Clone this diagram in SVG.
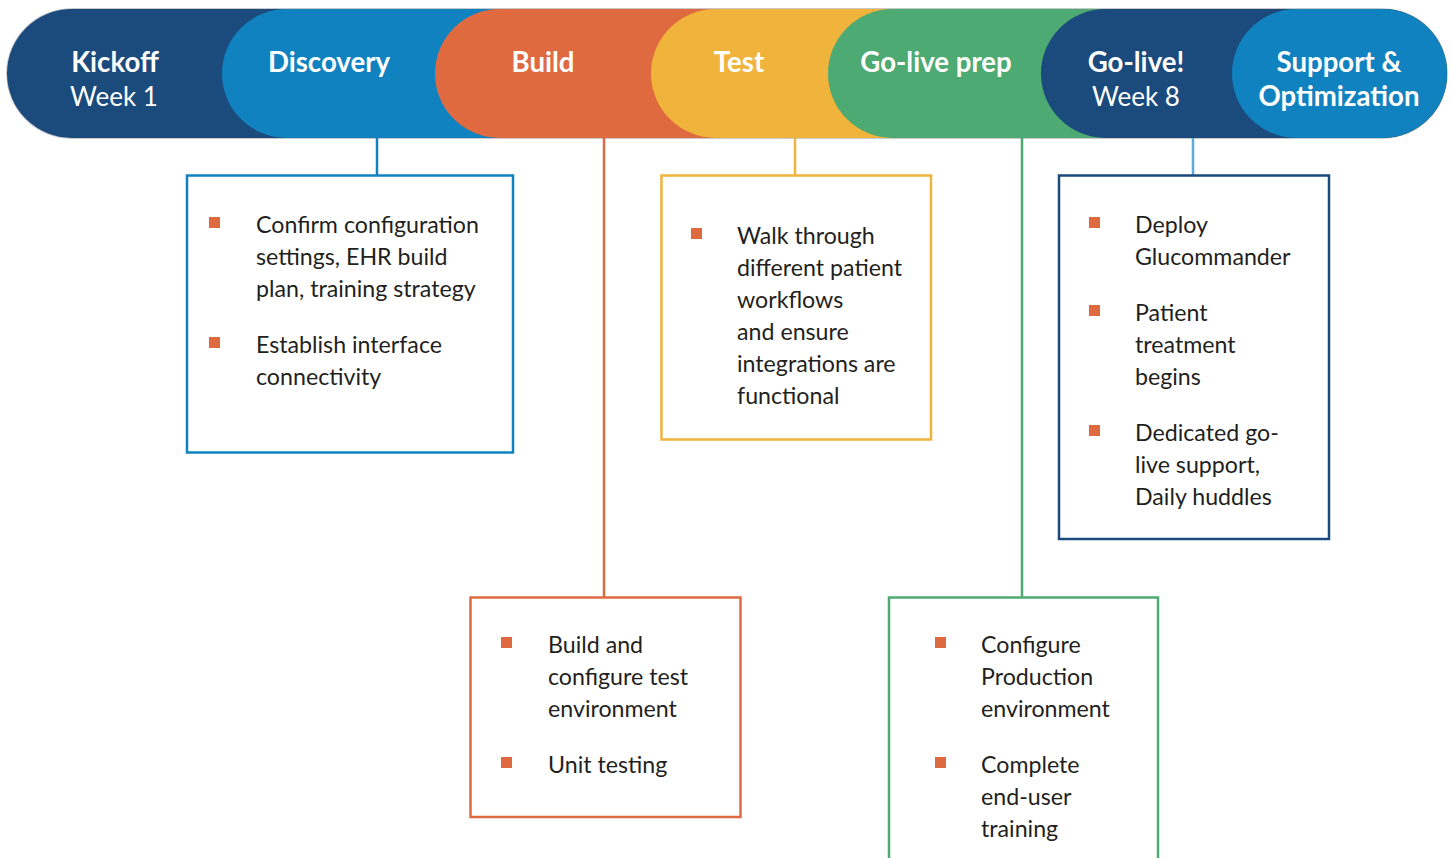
<svg xmlns="http://www.w3.org/2000/svg" width="1452" height="858" viewBox="0 0 1452 858">
<style>
.hd{font-family:Lato,"Source Sans Pro","Liberation Sans",sans-serif;font-weight:700;font-size:27.6px;fill:#ffffff;text-anchor:middle}
.wk{font-family:Lato,"Liberation Sans",sans-serif;font-weight:400;font-size:26px;fill:#ffffff;text-anchor:middle}
.tx{font-family:Lato,"Liberation Sans",sans-serif;font-size:23.2px;fill:#231f20}
.bul{fill:#e06a40}
.box{fill:#ffffff;stroke-width:2.5}
.cn{fill:none;stroke-width:2.5}
</style>
<rect width="1452" height="858" fill="#ffffff"/>
<g id="band">
<rect x="6.5" y="8.5" width="1441" height="130" rx="65" fill="none" stroke="#c9c9c9" stroke-width="1"/>
<g id="kickoff"><rect x="7" y="9" width="1440" height="129" rx="64.5" fill="#1b4a7c"/></g>
<g id="discovery"><rect x="222" y="9" width="1225" height="129" rx="64.5" fill="#1182c0"/></g>
<g id="build"><rect x="435" y="9" width="1012" height="129" rx="64.5" fill="#df6a40"/></g>
<g id="test"><rect x="651" y="9" width="796" height="129" rx="64.5" fill="#f0b33c"/></g>
<g id="golive-prep"><rect x="828" y="9" width="619" height="129" rx="64.5" fill="#4daa72"/></g>
<g id="golive"><rect x="1041" y="9" width="406" height="129" rx="64.5" fill="#1b4a7c"/></g>
<g id="support"><rect x="1232" y="9" width="215" height="129" rx="64.5" fill="#1182c0"/></g>
<text class="hd" x="115" y="72">Kickoff</text>
<text class="wk" x="114" y="106">Week 1</text>
<text class="hd" x="329" y="72">Discovery</text>
<text class="hd" x="543" y="72">Build</text>
<text class="hd" x="739" y="72">Test</text>
<text class="hd" x="936" y="72">Go-live prep</text>
<text class="hd" x="1136" y="72">Go-live!</text>
<text class="wk" x="1136" y="106">Week 8</text>
<text class="hd" x="1339" y="72">Support &amp;</text>
<text class="hd" x="1339" y="106">Optimization</text>
</g>
<g id="connectors">
<line class="cn" x1="377" y1="138" x2="377" y2="175" stroke="#1182c0"/>
<line class="cn" x1="604" y1="138" x2="604" y2="597" stroke="#df6a40"/>
<line class="cn" x1="795" y1="138" x2="795" y2="175" stroke="#f0b33c"/>
<line class="cn" x1="1022" y1="138" x2="1022" y2="597" stroke="#4daa72"/>
<line class="cn" x1="1193" y1="138" x2="1193" y2="175" stroke="#5baad9" stroke-width="3"/>
</g>
<g id="box-discovery">
<rect class="box" x="187" y="175.5" width="326" height="277" stroke="#1182c0"/>
<rect class="bul" x="209" y="217" width="11" height="11"/>
<text class="tx" x="256" y="233">Confirm configuration</text>
<text class="tx" x="256" y="265">settings, EHR build</text>
<text class="tx" x="256" y="297">plan, training strategy</text>
<rect class="bul" x="209" y="337" width="11" height="11"/>
<text class="tx" x="256" y="353">Establish interface</text>
<text class="tx" x="256" y="385">connectivity</text>
</g>
<g id="box-test">
<rect class="box" x="661.5" y="175.5" width="269.5" height="264" stroke="#f0b33c"/>
<rect class="bul" x="691" y="228" width="11" height="11"/>
<text class="tx" x="737" y="244">Walk through</text>
<text class="tx" x="737" y="276">different patient</text>
<text class="tx" x="737" y="308">workflows</text>
<text class="tx" x="737" y="340">and ensure</text>
<text class="tx" x="737" y="372">integrations are</text>
<text class="tx" x="737" y="404">functional</text>
</g>
<g id="box-support">
<rect class="box" x="1059" y="175.5" width="270" height="363.5" stroke="#1b4a7c"/>
<rect class="bul" x="1089" y="217" width="11" height="11"/>
<text class="tx" x="1135" y="233">Deploy</text>
<text class="tx" x="1135" y="265">Glucommander</text>
<rect class="bul" x="1089" y="305" width="11" height="11"/>
<text class="tx" x="1135" y="321">Patient</text>
<text class="tx" x="1135" y="353">treatment</text>
<text class="tx" x="1135" y="385">begins</text>
<rect class="bul" x="1089" y="425" width="11" height="11"/>
<text class="tx" x="1135" y="441">Dedicated go-</text>
<text class="tx" x="1135" y="473">live support,</text>
<text class="tx" x="1135" y="505">Daily huddles</text>
</g>
<g id="box-build">
<rect class="box" x="470.5" y="597.5" width="270" height="219.5" stroke="#df6a40"/>
<rect class="bul" x="501" y="637" width="11" height="11"/>
<text class="tx" x="548" y="653">Build and</text>
<text class="tx" x="548" y="685">configure test</text>
<text class="tx" x="548" y="717">environment</text>
<rect class="bul" x="501" y="757" width="11" height="11"/>
<text class="tx" x="548" y="773">Unit testing</text>
</g>
<g id="box-golive-prep">
<rect class="box" x="889" y="597.5" width="269" height="280" stroke="#4daa72"/>
<rect class="bul" x="935" y="637" width="11" height="11"/>
<text class="tx" x="981" y="653">Configure</text>
<text class="tx" x="981" y="685">Production</text>
<text class="tx" x="981" y="717">environment</text>
<rect class="bul" x="935" y="757" width="11" height="11"/>
<text class="tx" x="981" y="773">Complete</text>
<text class="tx" x="981" y="805">end-user</text>
<text class="tx" x="981" y="837">training</text>
</g>
</svg>
